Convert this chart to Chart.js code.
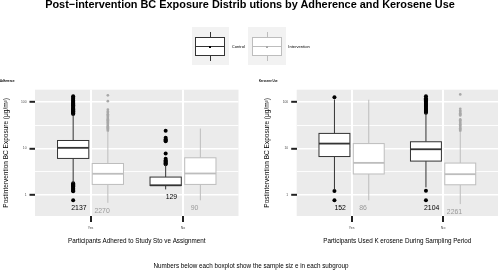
<!DOCTYPE html>
<html>
<head>
<meta charset="utf-8">
<script src="https://cdn.jsdelivr.net/npm/chart.js@4.4.1/dist/chart.umd.min.js"></script>
<style>
  body { margin: 0; background: #fff; }
  #wrap { position: relative; width: 500px; height: 271px; overflow: hidden;
          font-family: "Liberation Sans", Arial, Helvetica, sans-serif; color: #000; }
  canvas { position: absolute; top: 0; }
  #cLeft { left: 0; }
  #cRight { left: 250px; }
  .txt { position: absolute; white-space: nowrap; line-height: 1; }
  #title { left: 0; width: 500px; top: -0.8px; text-align: center; font-weight: bold; font-size: 10.9px; }
  .sub { font-weight: bold; font-size: 2.8px; top: 80.3px; }
  .key { position: absolute; background: #f2f2f2; }
  .keyLabel { font-size: 4.1px; top: 44.7px; }
  #caption { left: 0; width: 502px; top: 262.9px; text-align: center; font-size: 6.3px; }
</style>
</head>
<body>
<div id="wrap">
  <canvas id="cLeft" width="250" height="271"></canvas>
  <canvas id="cRight" width="250" height="271"></canvas>
  <div id="title" class="txt">Post−intervention BC Exposure Distrib utions by Adherence and Kerosene Use</div>
  <div class="txt sub" style="left:0px">Adherence</div>
  <div class="txt sub" style="left:259px">Kerosene Use</div>
  <div id="legend"></div>
  <div id="caption" class="txt">Numbers below each boxplot show the sample siz e in each subgroup</div>
</div>
<script>
// ---- data ----
const groups = ['Control', 'Intervention'];
const adhCategories = ['Yes', 'No'];
const kerCategories = ['Yes', 'No'];
const yMajorTicks = [1, 10, 100];
const yMinorTicks = [3.162, 31.62];

// Adherence panel, one value per category [Yes, No]
const adhControlQ1 = [6.1, 1.6];
const adhControlMedian = [10.3, 1.62];
const adhControlQ3 = [14.8, 2.43];
const adhControlLow = [1.83, 1.32];
const adhControlHigh = [53, 4.5];
const adhControlN = [2137, 129];
const adhControlOutliers = [
  [55, 57, 59, 61, 63, 65, 67, 69, 72, 75, 78, 81, 84, 88, 92, 96, 100, 105, 110, 116, 122, 132,
   1.78, 1.7, 1.62, 1.55, 1.48, 1.42, 1.36, 1.3, 1.25, 1.2, 0.77],
  [4.6, 4.8, 5.0, 5.3, 5.6, 6.0, 7.8, 14.3, 15.0, 15.8, 16.9, 24]
];
const adhInterQ1 = [1.69, 1.69];
const adhInterMedian = [2.86, 2.9];
const adhInterQ3 = [4.75, 6.3];
const adhInterLow = [0.68, 0.77];
const adhInterHigh = [23.5, 26.7];
const adhInterN = [2270, 90];
const adhInterOutliers = [
  [24, 25.5, 27, 28.5, 30, 32, 34, 36, 38, 40, 42.5, 45, 48, 51, 54, 58, 62, 68, 103, 138],
  []
];

// Kerosene panel, [Yes, No]
const kerControlQ1 = [6.7, 5.35];
const kerControlMedian = [12.7, 9.6];
const kerControlQ3 = [21, 13.9];
const kerControlLow = [1.3, 1.46];
const kerControlHigh = [112, 57];
const kerControlN = [152, 2104];
const kerControlOutliers = [
  [125, 1.22, 0.77],
  [58, 61, 64, 67, 70, 74, 78, 82, 86, 91, 96, 101, 107, 113, 120, 132, 1.23, 0.77]
];
const kerInterQ1 = [2.83, 1.66];
const kerInterMedian = [4.9, 2.8];
const kerInterQ3 = [12.7, 4.85];
const kerInterLow = [0.77, 0.64];
const kerInterHigh = [111, 23];
const kerInterN = [86, 2261];
const kerInterOutliers = [
  [],
  [24, 25.5, 27, 29, 31, 33, 35, 37.5, 40, 42, 51, 54, 57, 61, 65, 71, 144]
];

// ---- styling ----
const dodge = [-0.1875, 0.1875];
const labelDodge = [-0.125, 0.125];
const boxHalf = 0.169;
const lineColors = ['#333333', '#bdbdbd'];
const pointColors = ['#000000', '#a8a8a8'];
const pointSizes = [2, 1.35];
const labelColors = ['#000000', '#999999'];
const FONT = '"Liberation Sans", Arial, Helvetica, sans-serif';

function series(q1, med, q3, lo, hi, n, out) {
  return { q1, med, q3, lo, hi, n, out };
}

function makePanel(id, cats, data, xTitle, pad) {
  const datasets = data.map((s, g) => ({
    label: groups[g],
    data: s.out.flatMap((vals, c) => vals.map(v => ({ x: c + 1 + dodge[g], y: v }))),
    pointRadius: pointSizes[g],
    pointHoverRadius: pointSizes[g],
    pointBackgroundColor: pointColors[g],
    pointBorderWidth: 0,
    showLine: false
  }));

  const boxes = {
    id: 'boxes',
    beforeDraw(chart) {
      const a = chart.chartArea, ctx = chart.ctx;
      ctx.save();
      ctx.fillStyle = '#ebebeb';
      ctx.fillRect(a.left, a.top, a.right - a.left, a.bottom - a.top);
      ctx.restore();
    },
    afterDatasetsDraw(chart) {
      const ctx = chart.ctx, x = chart.scales.x, y = chart.scales.y;
      ctx.save();
      data.forEach((s, g) => {
        cats.forEach((cat, c) => {
          const xc = x.getPixelForValue(c + 1 + dodge[g]);
          const x0 = x.getPixelForValue(c + 1 + dodge[g] - boxHalf);
          const x1 = x.getPixelForValue(c + 1 + dodge[g] + boxHalf);
          const y1 = y.getPixelForValue(s.q1[c]);
          const y3 = y.getPixelForValue(s.q3[c]);
          const ym = y.getPixelForValue(s.med[c]);
          ctx.strokeStyle = lineColors[g];
          ctx.lineWidth = 1;
          ctx.beginPath();
          ctx.moveTo(xc, y3); ctx.lineTo(xc, y.getPixelForValue(s.hi[c]));
          ctx.moveTo(xc, y1); ctx.lineTo(xc, y.getPixelForValue(s.lo[c]));
          ctx.stroke();
          ctx.fillStyle = '#ffffff';
          ctx.fillRect(x0, y3, x1 - x0, y1 - y3);
          ctx.strokeRect(x0, y3, x1 - x0, y1 - y3);
          ctx.lineWidth = 1.8;
          ctx.beginPath();
          ctx.moveTo(x0, ym); ctx.lineTo(x1, ym);
          ctx.stroke();
          // sample size under the lowest point
          const lowest = Math.min(s.lo[c], ...s.out[c]);
          ctx.fillStyle = labelColors[g];
          ctx.font = '6.9px ' + FONT;
          ctx.textAlign = 'center';
          ctx.textBaseline = 'middle';
          ctx.fillText(String(s.n[c]), x.getPixelForValue(c + 1 + labelDodge[g]), y.getPixelForValue(lowest) + 8);
        });
      });
      ctx.restore();
    }
  };

  const isMajor = v => yMajorTicks.includes(v);

  new Chart(document.getElementById(id), {
    type: 'scatter',
    data: { datasets },
    options: {
      responsive: false,
      animation: false,
      devicePixelRatio: 1,
      layout: { padding: pad },
      plugins: { legend: { display: false }, tooltip: { enabled: false } },
      scales: {
        x: {
          type: 'linear', min: 0.4, max: 2.6,
          afterBuildTicks: s => { s.ticks = [{ value: 1 }, { value: 2 }]; },
          afterFit: s => { s.height = 28.8; },
          ticks: { callback: v => cats[v - 1], font: { size: 3.5, family: FONT }, color: '#4d4d4d',
                   padding: 4, maxRotation: 0, autoSkip: false },
          grid: { color: '#ffffff', lineWidth: 2, tickColor: '#222222', tickWidth: 2, tickLength: 6 },
          border: { display: false },
          title: { display: true, text: xTitle, color: '#000', font: { size: 6.3, family: FONT }, padding: 0 }
        },
        y: {
          type: 'logarithmic', min: 0.355, max: 182,
          afterBuildTicks: s => {
            s.ticks = [...yMajorTicks, ...yMinorTicks].sort((a, b) => a - b).map(v => ({ value: v }));
          },
          afterFit: s => { s.width = 35; },
          ticks: { callback: v => isMajor(v) ? String(v) : '', font: { size: 3.3, family: FONT },
                   color: '#4d4d4d', padding: 3, autoSkip: false },
          grid: {
            color: '#ffffff',
            lineWidth: c => (c.tick && isMajor(c.tick.value)) ? 1.6 : 0.9,
            tickColor: c => (c.tick && isMajor(c.tick.value)) ? '#222222' : 'rgba(0,0,0,0)',
            tickWidth: 2, tickLength: 5.5
          },
          border: { display: false },
          title: { display: true, text: 'Postintervention BC Exposure (μg/m³)', color: '#000',
                   font: { size: 6.5, family: FONT }, padding: { top: 2, bottom: 0 } }
        }
      }
    },
    plugins: [boxes]
  });
}

makePanel('cLeft', adhCategories, [
  series(adhControlQ1, adhControlMedian, adhControlQ3, adhControlLow, adhControlHigh, adhControlN, adhControlOutliers),
  series(adhInterQ1, adhInterMedian, adhInterQ3, adhInterLow, adhInterHigh, adhInterN, adhInterOutliers)
], 'Participants Adhered to Study Sto ve Assignment', { top: 89.7, bottom: 26.2, left: 0, right: 11.5 });

makePanel('cRight', kerCategories, [
  series(kerControlQ1, kerControlMedian, kerControlQ3, kerControlLow, kerControlHigh, kerControlN, kerControlOutliers),
  series(kerInterQ1, kerInterMedian, kerInterQ3, kerInterLow, kerInterHigh, kerInterN, kerInterOutliers)
], 'Participants Used K erosene During Sampling Period', { top: 89.7, bottom: 26.2, left: 11.7, right: 0 });

// legend keys: little boxplot glyphs
const legend = document.getElementById('legend');
const keyLeft = [191.7, 248.3];
groups.forEach((name, g) => {
  const l = keyLeft[g];
  const add = (css, cls) => {
    const d = document.createElement('div');
    d.className = cls || 'key';
    d.style.cssText = css;
    legend.appendChild(d);
    return d;
  };
  add(`left:${l}px;top:26.7px;width:37.6px;height:38.3px;`);
  add(`left:${l + 18.3}px;top:31.7px;width:1px;height:29px;background:${lineColors[g]};`);
  add(`left:${l + 3.3}px;top:36.7px;width:30px;height:19px;background:#fff;box-sizing:border-box;border:1px solid ${lineColors[g]};`);
  add(`left:${l + 3.3}px;top:45.6px;width:30px;height:1.2px;background:${lineColors[g]};`);
  add(`left:${l + 17.6}px;top:45.7px;width:2px;height:2px;background:${pointColors[g]};`);
  const t = add(`left:${l + 40}px;`, 'txt keyLabel');
  t.textContent = name;
});
</script>
</body>
</html>
